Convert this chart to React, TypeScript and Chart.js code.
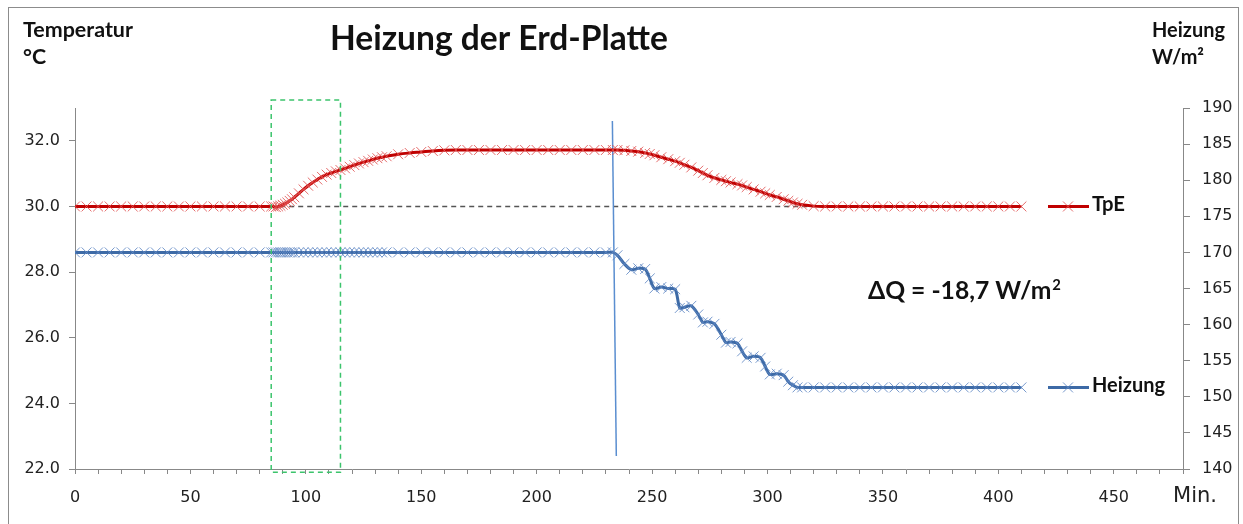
import React, { useEffect, useRef } from 'react';
import { Chart, registerables } from 'chart.js';

Chart.register(...registerables);

// ---- Data (minutes) ----
const TIMES = [
  0, 5, 10, 15, 20, 25, 30, 35, 40, 45, 50, 55, 60, 65, 70, 75, 80, 85,
  86, 87, 88, 89, 90, 91, 92, 93, 94, 95,
  97, 99, 101, 103, 105, 107, 109, 111, 113, 115, 117, 119, 121, 123, 125, 127, 129, 131, 133, 135,
  140, 145, 150, 155, 160, 165, 170, 175, 180, 185, 190, 195, 200, 205, 210, 215, 220, 225, 230,
  233, 235, 238, 241, 244, 247, 249, 251, 254, 257, 260, 262, 264, 267, 270, 272, 274, 277, 280, 282, 284, 287, 289, 291, 294, 297, 299, 301, 304, 307, 309, 311, 313,
  315, 320, 325, 330, 335, 340, 345, 350, 355, 360, 365, 370, 375, 380, 385, 390, 395, 400, 405, 410,
];

const TPE = [
  30.0, 30.0, 30.0, 30.0, 30.0, 30.0, 30.0, 30.0, 30.0, 30.0, 30.0, 30.0, 30.0, 30.0, 30.0, 30.0, 30.0, 30.0,
  30.0, 29.98, 30.0, 30.02, 30.05, 30.08, 30.12, 30.17, 30.22, 30.28,
  30.4, 30.52, 30.63, 30.73, 30.82, 30.9, 30.97, 31.02, 31.07, 31.11, 31.16, 31.21, 31.26, 31.31, 31.35, 31.39, 31.43, 31.47, 31.5, 31.53,
  31.59, 31.63, 31.66, 31.69, 31.71, 31.72, 31.72, 31.72, 31.72, 31.72, 31.72, 31.72, 31.72, 31.72, 31.72, 31.72, 31.72, 31.72, 31.72,
  31.72, 31.72, 31.71, 31.69, 31.67, 31.63, 31.6, 31.56, 31.5, 31.44, 31.38, 31.33, 31.27, 31.19, 31.09, 31.02, 30.95, 30.87, 30.81, 30.77, 30.73, 30.68, 30.64, 30.59, 30.52, 30.45, 30.4, 30.35, 30.29, 30.22, 30.17, 30.12, 30.08,
  30.05, 30.01, 30.0, 30.0, 30.0, 30.0, 30.0, 30.0, 30.0, 30.0, 30.0, 30.0, 30.0, 30.0, 30.0, 30.0, 30.0, 30.0, 30.0, 30.0,
];

const HEIZUNG = [
  170, 170, 170, 170, 170, 170, 170, 170, 170, 170, 170, 170, 170, 170, 170, 170, 170, 170,
  170, 170, 170, 170, 170, 170, 170, 170, 170, 170,
  170, 170, 170, 170, 170, 170, 170, 170, 170, 170, 170, 170, 170, 170, 170, 170, 170, 170, 170, 170,
  170, 170, 170, 170, 170, 170, 170, 170, 170, 170, 170, 170, 170, 170, 170, 170, 170, 170, 170,
  170, 169.6, 168.4, 167.6, 167.8, 167.7, 166.4, 165.0, 165.2, 165.0, 164.9, 162.3, 162.4, 162.6, 161.4, 160.3, 160.4, 160.1, 158.6, 157.5, 157.6, 157.4, 156.3, 155.4, 155.6, 155.4, 154.2, 153.1, 153.2, 153.0, 152.1, 151.6, 151.3,
  151.3, 151.3, 151.3, 151.3, 151.3, 151.3, 151.3, 151.3, 151.3, 151.3, 151.3, 151.3, 151.3, 151.3, 151.3, 151.3, 151.3, 151.3, 151.3, 151.3,
];

// marker line for switching the heating (right axis)
const SWITCH_X = [232.8, 234.5];
const SWITCH_Y = [188.2, 141.8];
// dashed reference line at the start temperature (left axis)
const REF_X = [85, 320];
const REF_Y = [30.0, 30.0];
// green dashed box (x in minutes, y in °C)
const BOX_X = [85, 115];
const BOX_Y = [33.24, 21.9];

const X_LABELS = [0, 50, 100, 150, 200, 250, 300, 350, 400, 450];
const LEFT_TICKS = [22, 24, 26, 28, 30, 32];
const RIGHT_TICKS = [140, 145, 150, 155, 160, 165, 170, 175, 180, 185, 190];

const TITLE = 'Heizung der Erd-Platte';
const LEFT_TITLE = ['Temperatur', '°C'];
const RIGHT_TITLE = ['Heizung', 'W/m²'];
const DELTA_Q = 'ΔQ = -18,7 W/m';
const DELTA_Q_SUP = '2';
const X_UNIT = 'Min.';

const RED_LINE = '#c00000';
const RED_MARK = 'rgba(224,82,82,0.85)';
const BLUE_LINE = '#3d6aa6';
const BLUE_MARK = 'rgba(96,136,196,0.85)';

function fitSize(ctx: CanvasRenderingContext2D, text: string, weight: string, family: string, width: number) {
  ctx.font = `${weight} 100px ${family}`;
  const w = ctx.measureText(text).width;
  return (100 * width) / w;
}

const overlayPlugin = {
  id: 'overlay',
  beforeDraw(chart: any) {
    const ctx = chart.ctx as CanvasRenderingContext2D;
    ctx.save();
    ctx.fillStyle = '#ffffff';
    ctx.fillRect(0, 0, chart.width, chart.height);
    ctx.strokeStyle = '#8c8c8c';
    ctx.lineWidth = 1;
    ctx.strokeRect(8.5, 7.5, 1230, 540);
    ctx.restore();
  },
  afterDatasetsDraw(chart: any) {
    const ctx = chart.ctx as CanvasRenderingContext2D;
    const xs = chart.scales.x;
    const yl = chart.scales.y;
    const x1 = xs.getPixelForValue(BOX_X[0]);
    const x2 = xs.getPixelForValue(BOX_X[1]);
    const y1 = yl.getPixelForValue(BOX_Y[0]);
    const y2 = yl.getPixelForValue(BOX_Y[1]);
    ctx.save();
    ctx.strokeStyle = '#3cc46c';
    ctx.lineWidth = 1.5;
    ctx.setLineDash([5, 4]);
    ctx.strokeRect(x1, y1, x2 - x1, y2 - y1);
    ctx.restore();
  },
  afterDraw(chart: any) {
    const ctx = chart.ctx as CanvasRenderingContext2D;
    const yl = chart.scales.y;
    const yr = chart.scales.y2;
    ctx.save();
    ctx.fillStyle = '#111111';
    ctx.textAlign = 'left';
    ctx.textBaseline = 'alphabetic';

    // title
    let s = fitSize(ctx, TITLE, 'bold', 'Lato', 338);
    ctx.font = `bold ${s}px Lato`;
    ctx.fillText(TITLE, 330, 50);

    // axis titles
    s = fitSize(ctx, LEFT_TITLE[0], 'bold', 'Lato', 110);
    ctx.font = `bold ${s}px Lato`;
    ctx.fillText(LEFT_TITLE[0], 23, 37);
    ctx.fillText(LEFT_TITLE[1], 23, 64);
    s = fitSize(ctx, RIGHT_TITLE[0], 'bold', 'Lato', 73);
    ctx.font = `bold ${s}px Lato`;
    ctx.fillText(RIGHT_TITLE[0], 1152, 37);
    ctx.fillText(RIGHT_TITLE[1], 1152, 64);

    // delta Q annotation
    ctx.font = 'bold 100px Lato';
    const wMain = ctx.measureText(DELTA_Q).width;
    ctx.font = 'bold 60px Lato';
    const wSup = ctx.measureText(DELTA_Q_SUP).width;
    const ds = (100 * 192) / (wMain + wSup);
    ctx.font = `bold ${ds}px Lato`;
    ctx.fillText(DELTA_Q, 868, 299);
    const mw = ctx.measureText(DELTA_Q).width;
    ctx.font = `bold ${ds * 0.6}px Lato`;
    ctx.fillText(DELTA_Q_SUP, 868 + mw + 1, 299 - ds * 0.38);

    // x unit
    s = fitSize(ctx, X_UNIT, 'normal', 'DejaVu Sans', 44);
    ctx.font = `normal ${s}px DejaVu Sans`;
    ctx.fillStyle = '#222222';
    ctx.fillText(X_UNIT, 1173, 502);

    // legend entries placed next to the series
    const items = [
      { label: 'TpE', y: yl.getPixelForValue(TPE[TPE.length - 1]), line: RED_LINE, mark: RED_MARK, w: 33 },
      { label: 'Heizung', y: yr.getPixelForValue(HEIZUNG[HEIZUNG.length - 1]), line: BLUE_LINE, mark: BLUE_MARK, w: 73 },
    ];
    for (const it of items) {
      ctx.strokeStyle = it.line;
      ctx.lineWidth = 3;
      ctx.beginPath();
      ctx.moveTo(1048, it.y);
      ctx.lineTo(1089, it.y);
      ctx.stroke();
      ctx.strokeStyle = it.mark;
      ctx.lineWidth = 1;
      ctx.beginPath();
      ctx.moveTo(1063, it.y - 5);
      ctx.lineTo(1073, it.y + 5);
      ctx.moveTo(1063, it.y + 5);
      ctx.lineTo(1073, it.y - 5);
      ctx.stroke();
      const fs = fitSize(ctx, it.label, 'bold', 'Lato', it.w);
      ctx.font = `bold ${fs}px Lato`;
      ctx.fillStyle = '#111111';
      ctx.fillText(it.label, 1092, it.y + 5);
    }
    ctx.restore();
  },
};

export default function App() {
  const ref = useRef<HTMLCanvasElement>(null);

  useEffect(() => {
    if (!ref.current) return;
    const tickFont = { family: 'DejaVu Sans', size: 16 };
    const chart = new Chart(ref.current, {
      type: 'line',
      data: {
        datasets: [
          {
            label: 'TpE',
            data: TIMES.map((t, i) => ({ x: t, y: TPE[i] })),
            yAxisID: 'y',
            borderColor: RED_LINE,
            borderWidth: 3,
            tension: 0.4,
            pointStyle: 'crossRot',
            pointRadius: 7,
            pointBorderWidth: 1,
            pointBorderColor: RED_MARK,
            pointBackgroundColor: 'transparent',
            fill: false,
          },
          {
            label: 'Heizung',
            data: TIMES.map((t, i) => ({ x: t, y: HEIZUNG[i] })),
            yAxisID: 'y2',
            borderColor: BLUE_LINE,
            borderWidth: 3,
            tension: 0.3,
            pointStyle: 'crossRot',
            pointRadius: 7,
            pointBorderWidth: 1,
            pointBorderColor: BLUE_MARK,
            pointBackgroundColor: 'transparent',
            fill: false,
          },
          {
            label: 'switch',
            data: SWITCH_X.map((x, i) => ({ x, y: SWITCH_Y[i] })),
            yAxisID: 'y2',
            borderColor: '#5a8ed0',
            borderWidth: 1.5,
            pointRadius: 0,
            tension: 0,
            fill: false,
          },
          {
            label: 'ref',
            data: REF_X.map((x, i) => ({ x, y: REF_Y[i] })),
            yAxisID: 'y',
            borderColor: '#555555',
            borderWidth: 1.5,
            borderDash: [5, 4],
            pointRadius: 0,
            tension: 0,
            fill: false,
          },
        ],
      },
      options: {
        animation: false,
        responsive: false,
        layout: { padding: { top: 108, left: 0, right: 0, bottom: 0 } },
        plugins: {
          legend: { display: false },
          tooltip: { enabled: false },
          title: { display: false },
        },
        scales: {
          x: {
            type: 'linear',
            min: 0,
            max: 480,
            grid: { drawOnChartArea: false, tickLength: 5, color: '#888888' },
            border: { display: true, color: '#888888', width: 1 },
            ticks: {
              stepSize: 10,
              autoSkip: false,
              maxRotation: 0,
              padding: 14,
              color: '#222222',
              font: tickFont,
              callback: (v: any) => (X_LABELS.includes(Number(v)) ? String(v) : ''),
            },
            afterFit: (sc: any) => {
              sc.height = 55;
            },
          },
          y: {
            type: 'linear',
            position: 'left',
            min: 22,
            max: 33,
            afterBuildTicks: (sc: any) => {
              sc.ticks = LEFT_TICKS.map((v) => ({ value: v }));
            },
            grid: { drawOnChartArea: false, tickLength: 6, color: '#888888' },
            border: { display: true, color: '#888888', width: 1 },
            ticks: {
              padding: 9,
              color: '#222222',
              font: tickFont,
              callback: (v: any) => Number(v).toFixed(1),
            },
            afterFit: (sc: any) => {
              sc.width = 75;
            },
          },
          y2: {
            type: 'linear',
            position: 'right',
            min: 140,
            max: 190,
            afterBuildTicks: (sc: any) => {
              sc.ticks = RIGHT_TICKS.map((v) => ({ value: v }));
            },
            grid: { drawOnChartArea: false, tickLength: 7, color: '#888888' },
            border: { display: true, color: '#888888', width: 1 },
            ticks: {
              padding: 12,
              color: '#222222',
              font: tickFont,
              callback: (v: any) => String(v),
            },
            afterFit: (sc: any) => {
              sc.width = 60;
            },
          },
        },
      },
      plugins: [overlayPlugin],
    } as any);
    return () => chart.destroy();
  }, []);

  return (
    <div style={{ position: 'fixed', left: 0, top: 0, width: 1243, height: 524, background: '#fff' }}>
      <canvas ref={ref} width={1243} height={524} style={{ display: 'block' }} />
    </div>
  );
}
